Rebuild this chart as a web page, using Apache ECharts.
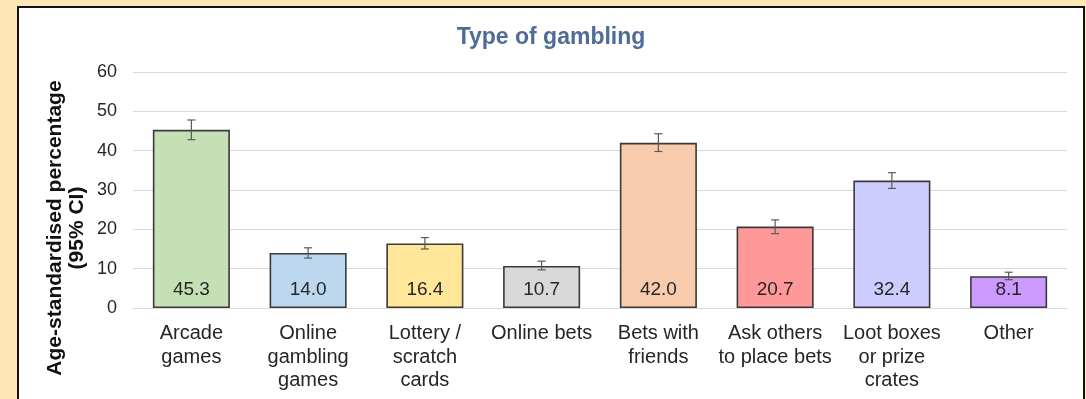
<!DOCTYPE html>
<html>
<head>
<meta charset="utf-8">
<script src="https://cdn.jsdelivr.net/npm/echarts@6/dist/echarts.min.js"></script>
<style>
html,body{margin:0;padding:0;background:#FFE8B6;width:1086px;height:399px;overflow:hidden;}
#panel{position:absolute;left:17px;top:6px;width:1064px;height:400px;border:2px solid #111;border-bottom:none;background:#fff;}
#chart{width:1064px;height:400px;}
</style>
</head>
<body>
<div id="panel"><div id="chart"></div></div>
<script>
const categories = ["Arcade\ngames","Online\ngambling\ngames","Lottery /\nscratch\ncards","Online bets","Bets with\nfriends","Ask others\nto place bets","Loot boxes\nor prize\ncrates","Other"];
const values = [45.3, 14.0, 16.4, 10.7, 42.0, 20.7, 32.4, 8.1];
const ciLow  = [42.8, 12.7, 15.0, 9.7, 39.8, 18.9, 30.4, 7.2];
const ciHigh = [47.8, 15.3, 17.9, 11.9, 44.3, 22.4, 34.4, 9.1];
const barColors = ["#C5E0B4","#BDD7EE","#FFE699","#D9D9D9","#F8CBAD","#FF9999","#CCCCFF","#CC99FF"];
const yTicks = [0, 10, 20, 30, 40, 50, 60];

const chart = echarts.init(document.getElementById('chart'));
const font = '"Liberation Sans", Arial, sans-serif';
chart.setOption({
  animation: false,
  title: {
    text: 'Type of gambling', left: 'center', top: 13,
    textStyle: {fontFamily: font, fontSize: 23, fontWeight: 'bold', color: '#4F6C97'}
  },
  graphic: [{
    type: 'text', x: 47, y: 220, rotation: Math.PI / 2,
    style: {
      text: 'Age-standardised percentage\n(95% CI)', font: 'bold 21px ' + font,
      fill: '#111', align: 'center', verticalAlign: 'middle', lineHeight: 22
    }
  }],
  grid: {left: 114, right: 16, top: 64, height: 236, containLabel: false},
  xAxis: {
    type: 'category', data: categories,
    axisLine: {show: true, lineStyle: {color: '#D9D9D9', width: 1}},
    axisTick: {show: false},
    axisLabel: {fontFamily: font, fontSize: 20, color: '#262626', lineHeight: 23.5, margin: 14, interval: 0}
  },
  yAxis: {
    type: 'value', min: yTicks[0], max: yTicks[yTicks.length - 1], interval: 10,
    axisLine: {show: false}, axisTick: {show: false},
    splitLine: {lineStyle: {color: '#D9D9D9', width: 1}},
    axisLabel: {fontFamily: font, fontSize: 18, color: '#262626', margin: 16}
  },
  series: [{
    type: 'bar', barCategoryGap: '34%',
    data: values.map((v, i) => ({value: v, itemStyle: {color: barColors[i]}})),
    itemStyle: {borderColor: '#3A3A3A', borderWidth: 1.6},
    label: {
      show: true, position: 'insideBottom', distance: 9,
      fontFamily: font, fontSize: 19, color: '#262626',
      formatter: p => p.value.toFixed(1)
    }
  }, {
    type: 'custom', z: 10,
    data: values.map((v, i) => [i, ciLow[i], ciHigh[i]]),
    renderItem: function (params, api) {
      const lo = api.coord([api.value(0), api.value(1)]);
      const hi = api.coord([api.value(0), api.value(2)]);
      const w = 4;
      const st = {stroke: '#595959', lineWidth: 1.2};
      return {type: 'group', children: [
        {type: 'line', shape: {x1: hi[0], y1: hi[1], x2: lo[0], y2: lo[1]}, style: st},
        {type: 'line', shape: {x1: hi[0] - w, y1: hi[1], x2: hi[0] + w, y2: hi[1]}, style: st},
        {type: 'line', shape: {x1: lo[0] - w, y1: lo[1], x2: lo[0] + w, y2: lo[1]}, style: st}
      ]};
    }
  }]
});
</script>
</body>
</html>
